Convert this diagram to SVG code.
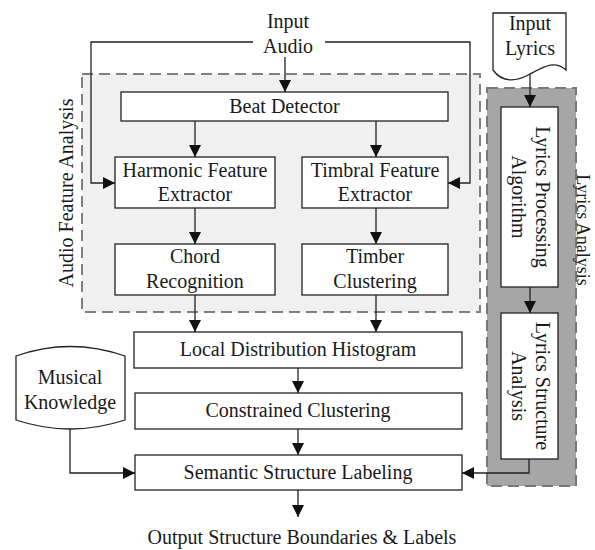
<svg xmlns="http://www.w3.org/2000/svg" width="595" height="550" viewBox="0 0 595 550">
<defs>
<style>
text{font-family:"Liberation Serif","Times New Roman",serif;font-size:20px;fill:#1a1a1a;text-anchor:middle}
.box{fill:#fff;stroke:#222;stroke-width:1.3}
.ln{fill:none;stroke:#222;stroke-width:1.3}
.arr{marker-end:url(#ah)}
</style>
<marker id="ah" markerUnits="userSpaceOnUse" markerWidth="12" markerHeight="12" refX="12" refY="6" orient="auto">
<path d="M0,0 L12,6 L0,12 Z" fill="#111"/>
</marker>
</defs>
<rect width="595" height="550" fill="#fff"/>

<g id="audio-group">
<rect x="82" y="74" width="398" height="238" fill="#f0f0f0" stroke="#808080" stroke-width="2" stroke-dasharray="11,6"/>
<text transform="translate(73,193) rotate(-90)">Audio Feature Analysis</text>
</g>

<g id="lyrics-group">
<rect x="487" y="88" width="89" height="398" fill="#a6a6a6" stroke="#777" stroke-width="2" stroke-dasharray="11,6"/>
<text transform="translate(577,230) rotate(90)" style="font-size:18px">Lyrics Analysis</text>
</g>

<g id="input-audio">
<text x="288" y="28">Input</text>
<text x="288" y="53">Audio</text>
</g>

<g id="input-lyrics">
<path class="box" d="M493,13 H566 V70 C555,60 545,66 530,74 C518,81 503,84 493,70 Z"/>
<text x="530" y="30">Input</text>
<text x="530" y="55">Lyrics</text>
</g>

<g id="beat-detector">
<rect class="box" x="121" y="92" width="327" height="29"/>
<text x="284.5" y="113">Beat Detector</text>
</g>

<g id="harmonic">
<rect class="box" x="115" y="157" width="160" height="51"/>
<text x="195" y="177">Harmonic Feature</text>
<text x="195" y="201">Extractor</text>
</g>

<g id="timbral">
<rect class="box" x="302" y="157" width="146" height="51"/>
<text x="375" y="177">Timbral Feature</text>
<text x="375" y="201">Extractor</text>
</g>

<g id="chord">
<rect class="box" x="115" y="244" width="160" height="51"/>
<text x="195" y="263">Chord</text>
<text x="195" y="288">Recognition</text>
</g>

<g id="timber">
<rect class="box" x="302" y="244" width="146" height="51"/>
<text x="375" y="263">Timber</text>
<text x="375" y="288">Clustering</text>
</g>

<g id="ldh">
<rect class="box" x="134" y="332" width="328" height="36"/>
<text x="298" y="356">Local Distribution Histogram</text>
</g>

<g id="constrained">
<rect class="box" x="135" y="393" width="327" height="36"/>
<text x="298" y="417">Constrained Clustering</text>
</g>

<g id="semantic">
<rect class="box" x="135" y="455" width="327" height="35"/>
<text x="298" y="479">Semantic Structure Labeling</text>
</g>

<g id="musical">
<path class="box" d="M16,356 Q70,337 125,356 V420 Q70,438 16,420 Z"/>
<text x="70" y="384">Musical</text>
<text x="70" y="409">Knowledge</text>
</g>

<g id="lpa">
<rect class="box" x="501" y="107" width="57" height="180"/>
<text transform="translate(536,197) rotate(90)">Lyrics Processing</text>
<text transform="translate(512,197) rotate(90)">Algorithm</text>
</g>

<g id="lsa">
<rect class="box" x="501" y="313" width="57" height="146"/>
<text transform="translate(536,386) rotate(90)">Lyrics Structure</text>
<text transform="translate(512,386) rotate(90)">Analysis</text>
</g>

<g id="output">
<text x="302" y="544">Output Structure Boundaries &amp; Labels</text>
</g>

<g id="connectors">
<path class="ln" d="M253,42 H91 V183 H115" marker-end="url(#ah)"/>
<path class="ln" d="M325,42 H470 V183 H448" marker-end="url(#ah)"/>
<path class="ln arr" d="M285,57 V92"/>
<path class="ln arr" d="M195,121 V157"/>
<path class="ln arr" d="M376,121 V157"/>
<path class="ln arr" d="M195,208 V244"/>
<path class="ln arr" d="M376,208 V244"/>
<path class="ln arr" d="M195,295 V332"/>
<path class="ln arr" d="M376,295 V332"/>
<path class="ln arr" d="M298,368 V393"/>
<path class="ln arr" d="M298,429 V455"/>
<path class="ln arr" d="M298,490 V517"/>
<path class="ln arr" d="M70,429 V473 H135"/>
<path class="ln arr" d="M530,74 V107"/>
<path class="ln arr" d="M530,287 V313"/>
<path class="ln arr" d="M529,459 V473 H462"/>
</g>
</svg>
